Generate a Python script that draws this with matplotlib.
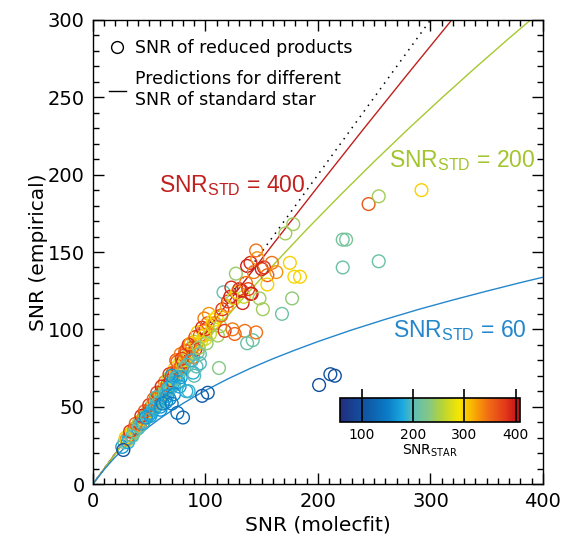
import numpy as np
import matplotlib
matplotlib.use("Agg")
import matplotlib.pyplot as plt
from matplotlib.colors import LinearSegmentedColormap, Normalize
from matplotlib.lines import Line2D

plt.rcParams["font.family"] = ["DejaVu Sans"]

# scatter: SNR (molecfit), SNR (empirical), SNR of the star
snr_mol = [26, 28, 30, 30, 32, 33, 34, 35, 36, 37, 38, 39, 40, 40, 41, 42, 43, 44, 45, 45,
           46, 47, 48, 49, 50, 50, 51, 52, 52, 53, 54, 55, 55, 56, 57, 58, 58, 59, 60, 60,
           61, 62, 63, 64, 64, 65, 66, 66, 67, 68, 69, 70, 70, 71, 72, 72, 73, 74, 74, 75,
           76, 76, 77, 78, 78, 79, 80, 80, 81, 82, 83, 84, 85, 86, 86, 87, 88, 89, 90, 91,
           92, 93, 95, 96, 98, 99, 100, 100,
           29, 31, 33, 35, 37, 38, 41, 43, 44, 46, 48, 50, 53, 54, 56, 57, 59, 61, 63, 64,
           67, 68, 69, 71, 73, 75, 76, 79, 81, 82, 84, 85, 87, 88, 91, 93, 94, 97, 99, 103,
           89, 92, 78, 68, 60, 64,
           27, 47, 50, 51, 55, 56, 60, 62, 65, 66, 70, 70, 72, 74, 75, 77, 80, 83, 85, 90,
           95, 95, 97, 102, 112, 101,
           102, 104, 106, 107, 108, 110, 111, 113, 114, 115, 116, 117, 119, 120, 122, 123,
           124, 125, 126, 127, 128, 130, 132, 133, 134, 135, 136, 137, 138, 140, 140, 141,
           142, 143, 145, 145, 146, 148, 150, 151, 152, 155, 155, 159, 163, 137,
           168, 171, 175, 177, 178, 179, 184, 201, 211, 215, 222, 222, 225, 245, 254, 254, 292]
snr_emp = [24, 27, 28, 29, 30, 32, 31, 34, 33, 36, 35, 37, 38, 36, 40, 39, 41, 42, 43, 40,
           44, 45, 46, 44, 48, 47, 49, 50, 46, 51, 52, 50, 53, 55, 54, 56, 52, 57, 58, 55,
           60, 59, 61, 66, 62, 63, 64, 60, 68, 65, 67, 69, 66, 72, 70, 64, 75, 72, 80, 73,
           74, 70, 78, 76, 84, 74, 79, 77, 83, 80, 86, 82, 84, 90, 83, 80, 88, 82, 92, 87,
           90, 85, 96, 92, 99, 107, 94, 100,
           30, 27, 34, 31, 34, 39, 37, 44, 39, 47, 43, 51, 48, 55, 51, 59, 53, 63, 57, 59,
           62, 71, 62, 65, 68, 79, 66, 81, 75, 86, 77, 90, 91, 80, 95, 98, 88, 101, 96, 110,
           72, 76, 69, 55, 48, 55,
           22, 43, 45, 44, 49, 56, 50, 52, 53, 57, 52, 70, 58, 69, 46, 63, 43, 60, 60, 70,
           78, 84, 57, 59, 75, 91,
           104, 97, 103, 106, 104, 108, 96, 102, 109, 113, 124, 99, 115, 118, 121, 127,
           100, 120, 97, 136, 124, 126, 125, 117, 121, 99, 130, 141, 126, 143, 123, 123,
           93, 137, 98, 151, 146, 120, 139, 113, 140, 135, 129, 143, 137, 91,
           110, 162, 143, 120, 168, 134, 134, 64, 71, 70, 140, 158, 158, 181, 186, 144, 190]
snr_star = [170, 210, 260, 330, 190, 350, 220, 290, 240, 360, 200, 280, 330, 180, 250, 370, 210, 300, 340, 190,
            260, 380, 230, 200, 350, 270, 320, 390, 185, 240, 300, 215, 360, 280, 330, 250, 195, 390, 310, 225,
            350, 270, 380, 340, 240, 300, 360, 205, 260, 320, 395, 290, 230, 340, 370, 210, 300, 250, 360, 330,
            380, 195, 280, 350, 340, 230, 400, 310, 360, 270, 360, 330, 250, 340, 300, 230, 380, 345, 260, 390,
            320, 215, 350, 280, 330, 340, 270, 380,
            300, 180, 380, 200, 230, 350, 205, 390, 185, 360, 215, 380, 190, 350, 220, 370, 200, 390, 190, 230,
            185, 380, 200, 180, 210, 350, 175, 375, 220, 350, 200, 380, 320, 190, 370, 300, 240, 385, 300, 330,
            185, 200, 170, 160, 165, 190,
            105, 165, 180, 175, 185, 195, 170, 150, 160, 175, 150, 165, 160, 190, 140, 175, 130, 185, 190, 200,
            195, 205, 110, 115, 230, 235,
            355, 265, 300, 290, 330, 295, 245, 245, 350, 380, 205, 380, 320, 370, 395, 390,
            340, 270, 350, 240, 300, 385, 395, 390, 265, 345, 340, 395, 370, 390, 375, 395,
            210, 340, 345, 345, 330, 245, 395, 245, 385, 355, 300, 345, 330, 210,
            215, 245, 300, 235, 245, 298, 300, 100, 105, 100, 210, 215, 220, 360, 245, 210, 300]

# predictions, SNR_STD = 60 / 200 / 400
pred60_x = [0, 5, 10, 15, 20, 30, 40, 50, 60, 70, 80, 90, 100, 120, 140, 160, 180, 200,
            230, 260, 290, 320, 350, 380, 400]
pred60_y = [0, 4.85, 9.38, 13.6, 17.6, 24.8, 31.3, 37.2, 42.6, 47.5, 52.1, 56.4, 60.5,
            68.0, 74.8, 81.0, 86.7, 92.1, 99.6, 106.5, 113.0, 119.0, 124.7, 130.2, 133.7]
pred200_x = [0, 20, 40, 60, 80, 100, 130, 160, 190, 220, 250, 280, 310, 340, 370, 400]
pred200_y = [0, 19.7, 38.7, 57.1, 74.9, 92.3, 117.3, 141.4, 164.6, 186.9, 208.5, 229.4,
             249.6, 269.2, 288.3, 306.8]
pred400_x = [0, 40, 80, 120, 160, 200, 240, 280, 320]
pred400_y = [0, 39.7, 78.7, 117.2, 155.0, 192.3, 229.1, 265.3, 301.0]

cbar_ticks = [100, 200, 300, 400]
star_min, star_max = 58, 408

# rainbow-like table used for SNR_STAR
anchors = [(58, "#232d7f"), (100, "#11509e"), (150, "#0b7cc6"), (180, "#1aa9e0"),
           (200, "#5dbdb6"), (230, "#84c786"), (255, "#b4d23a"), (290, "#f7e600"),
           (315, "#f9b400"), (345, "#f17015"), (380, "#e2381a"), (400, "#c91818"),
           (408, "#9e1c1c")]
cmap = LinearSegmentedColormap.from_list(
    "snr", [((v - star_min) / (star_max - star_min), c) for v, c in anchors])
norm = Normalize(star_min, star_max)

fig = plt.figure(figsize=(5.65, 5.42), dpi=100)
ax = fig.add_axes([0.1646, 0.107, 0.7964, 0.8561])

ax.plot([0, 300], [0, 300], color="black", ls=(0, (1, 3.5)), lw=1.1, zorder=2)
ax.plot(pred400_x, pred400_y, color="#c0201e", lw=1, zorder=2)
ax.plot(pred200_x, pred200_y, color="#a6c830", lw=1, zorder=2)
ax.plot(pred60_x, pred60_y, color="#2487cc", lw=1, zorder=2)

ax.scatter(snr_mol, snr_emp, s=84, facecolors="none",
           edgecolors=cmap(norm(np.array(snr_star))), linewidths=1.0, zorder=3)

ann = dict(fontsize=16.5, va="center", ha="left", family="Liberation Sans")
ax.text(59, 193, r"SNR$_{\mathregular{STD}}$ = 400", color="#c0201e", **ann)
ax.text(263, 209, r"SNR$_{\mathregular{STD}}$ = 200", color="#a2c52e", **ann)
ax.text(267, 99, r"SNR$_{\mathregular{STD}}$ = 60", color="#2487cc", **ann)

handles = [Line2D([], [], ls="none", marker="o", mfc="none", mec="black", ms=8.5, mew=1),
           Line2D([], [], color="black", lw=1)]
ax.legend(handles, ["SNR of reduced products", "Predictions for different\nSNR of standard star"],
          loc="upper left", bbox_to_anchor=(0.0, 0.992), frameon=False, fontsize=12.5,
          handlelength=1.0, handletextpad=0.5, labelspacing=0.75, borderaxespad=0.5)

ax.set_xlim(0, 400)
ax.set_ylim(0, 300)
ax.set_xticks([0, 100, 200, 300, 400])
ax.set_yticks([0, 50, 100, 150, 200, 250, 300])
ax.set_xticks(np.arange(0, 401, 10), minor=True)
ax.set_yticks(np.arange(0, 301, 10), minor=True)
ax.tick_params(which="both", direction="in", top=True, right=True, labelsize=14,
               width=1, pad=6)
ax.tick_params(which="major", length=8)
ax.tick_params(which="minor", length=4)
for s in ax.spines.values():
    s.set_linewidth(1)
ax.set_xlabel("SNR (molecfit)", fontsize=14.5, labelpad=3)
ax.set_ylabel("SNR (empirical)", fontsize=14.5, labelpad=0)

# colour bar
cax = fig.add_axes([0.6018, 0.2214, 0.3186, 0.0443])
sm = plt.cm.ScalarMappable(cmap=cmap, norm=norm)
cb = fig.colorbar(sm, cax=cax, orientation="horizontal", ticks=cbar_ticks)
cb.outline.set_linewidth(1.2)
cax.tick_params(direction="in", length=24, width=1.2, color="black", labelsize=10, pad=4)
cb.set_label(r"SNR$_{\mathregular{STAR}}$", fontsize=10, labelpad=1)

fig.savefig("out.png", dpi=100)
